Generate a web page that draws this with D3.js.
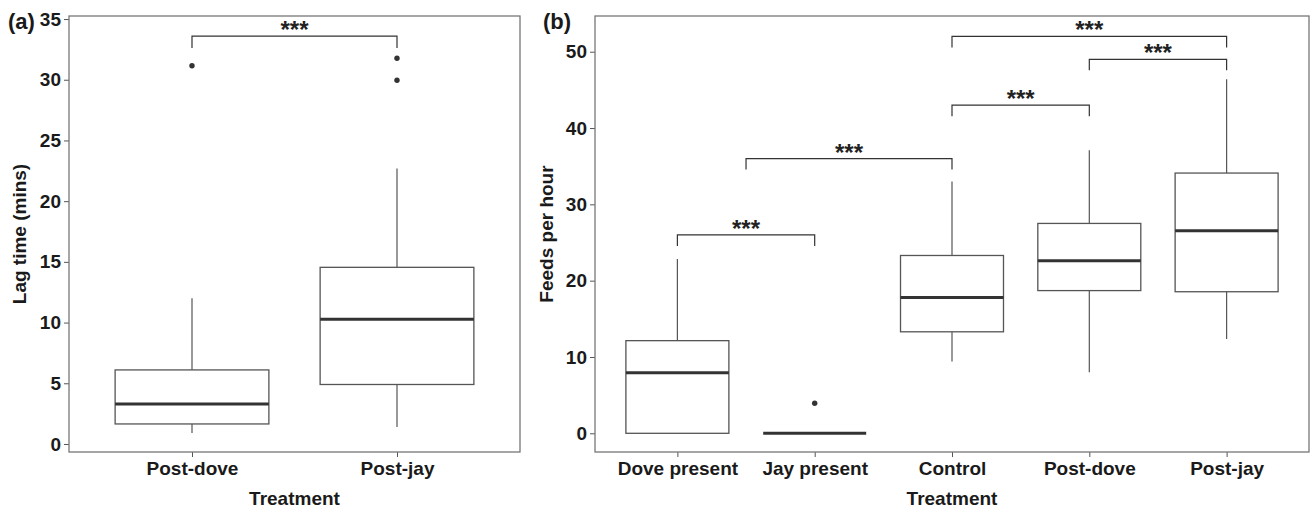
<!DOCTYPE html>
<html>
<head>
<meta charset="utf-8">
<script src="https://cdn.jsdelivr.net/npm/d3@7"></script>
<style>
  body { margin: 0; background: #fff; }
  text { font-family: "Liberation Sans", Arial, sans-serif; }
</style>
</head>
<body>
<svg id="chart" width="1311" height="509"></svg>
<script>
// Panel (a) data: lag time (mins)
const lagCategories = ["Post-dove", "Post-jay"];
const lagWhiskerLow = [0.9, 1.4];
const lagQ1 = [1.65, 4.9];
const lagMedian = [3.3, 10.27];
const lagQ3 = [6.1, 14.55];
const lagWhiskerHigh = [12.0, 22.7];
const lagOutliers = [[31.15], [31.77, 29.96]];
const lagTicks = [0, 5, 10, 15, 20, 25, 30, 35];
// from/to: a category, or a list of categories (bracket end sits at their midpoint)
const lagBrackets = [
    { from: ["Post-dove"], to: ["Post-jay"], y: 33.6, label: "***" }
];

// Panel (b) data: feeds per hour
const feedCategories = ["Dove present", "Jay present", "Control", "Post-dove", "Post-jay"];
const feedWhiskerLow = [0, 0, 9.4, 8.0, 12.36];
const feedQ1 = [0, 0, 13.3, 18.7, 18.55];
const feedMedian = [7.95, 0, 17.8, 22.6, 26.55];
const feedQ3 = [12.14, 0, 23.3, 27.5, 34.1];
const feedWhiskerHigh = [22.85, 0, 33.0, 37.1, 46.4];
const feedOutliers = [[], [3.93], [], [], []];
const feedTicks = [0, 10, 20, 30, 40, 50];
const feedBrackets = [
    { from: ["Dove present"], to: ["Jay present"], y: 26.0, label: "***" },
    { from: ["Dove present", "Jay present"], to: ["Control"], y: 36.0, label: "***" },
    { from: ["Control"], to: ["Post-dove"], y: 43.0, label: "***" },
    { from: ["Post-dove"], to: ["Post-jay"], y: 49.0, label: "***" },
    { from: ["Control"], to: ["Post-jay"], y: 52.0, label: "***" }
];

const svg = d3.select("#chart");

function drawPanel(opt) {
    const x = d3.scalePoint()
        .domain(opt.categories)
        .range([opt.left, opt.right])
        .padding(0.6);
    const y = d3.scaleLinear()
        .domain(opt.yDomain)
        .range([opt.bottom, opt.top]);
    const boxW = x.step() * 0.75;

    const g = svg.append("g");

    const rows = opt.categories.map((c, i) => ({
        cat: c, lo: opt.low[i], q1: opt.q1[i], med: opt.median[i],
        q3: opt.q3[i], hi: opt.high[i], out: opt.outliers[i]
    }));

    // whiskers
    g.selectAll(".whisk-hi").data(rows).enter().append("line")
        .attr("x1", d => x(d.cat)).attr("x2", d => x(d.cat))
        .attr("y1", d => y(d.q3)).attr("y2", d => y(d.hi))
        .attr("stroke", "#555").attr("stroke-width", 1.2);
    g.selectAll(".whisk-lo").data(rows).enter().append("line")
        .attr("x1", d => x(d.cat)).attr("x2", d => x(d.cat))
        .attr("y1", d => y(d.q1)).attr("y2", d => y(d.lo))
        .attr("stroke", "#555").attr("stroke-width", 1.2);

    // boxes
    g.selectAll(".box").data(rows).enter().append("rect")
        .attr("x", d => x(d.cat) - boxW / 2)
        .attr("width", boxW)
        .attr("y", d => y(d.q3))
        .attr("height", d => y(d.q1) - y(d.q3))
        .attr("fill", "#fff")
        .attr("stroke", "#555").attr("stroke-width", 1.3);

    // medians
    g.selectAll(".median").data(rows).enter().append("line")
        .attr("x1", d => x(d.cat) - boxW / 2).attr("x2", d => x(d.cat) + boxW / 2)
        .attr("y1", d => y(d.med)).attr("y2", d => y(d.med))
        .attr("stroke", "#333").attr("stroke-width", 3);

    // outliers
    rows.forEach(d => {
        g.selectAll(null).data(d.out).enter().append("circle")
            .attr("cx", x(d.cat)).attr("cy", v => y(v))
            .attr("r", 2.7).attr("fill", "#333");
    });

    // significance brackets
    const mid = cats => d3.mean(cats, c => x(c));
    opt.brackets.forEach(b => {
        const x1 = mid(b.from), x2 = mid(b.to), yy = y(b.y);
        g.append("path")
            .attr("d", `M${x1},${yy + opt.tip}V${yy}H${x2}V${yy + opt.tip}`)
            .attr("fill", "none").attr("stroke", "#333").attr("stroke-width", 1.2);
        g.append("text")
            .attr("x", (x1 + x2) / 2).attr("y", yy + 2)
            .attr("text-anchor", "middle")
            .style("font-size", "24px").style("font-weight", "bold")
            .attr("fill", "#222")
            .text(b.label);
    });

    // Y axis
    const yAxis = g.append("g")
        .attr("transform", `translate(${opt.left},0)`)
        .call(d3.axisLeft(y).tickValues(opt.ticks).tickSize(5).tickPadding(3));
    yAxis.select(".domain").remove();
    yAxis.selectAll("line").attr("stroke", "#555");
    yAxis.selectAll("text")
        .style("font-size", "19px").style("font-weight", "bold")
        .attr("fill", "#1a1a1a");

    // X axis
    const xAxis = g.append("g")
        .attr("transform", `translate(0,${opt.bottom})`)
        .call(d3.axisBottom(x).tickSize(5).tickPadding(5));
    xAxis.select(".domain").remove();
    xAxis.selectAll("line").attr("stroke", "#555");
    xAxis.selectAll("text")
        .style("font-size", "19px").style("font-weight", "bold")
        .attr("fill", "#1a1a1a");

    // panel border
    g.append("rect")
        .attr("x", opt.left).attr("y", opt.top)
        .attr("width", opt.right - opt.left).attr("height", opt.bottom - opt.top)
        .attr("fill", "none").attr("stroke", "#777").attr("stroke-width", 1.3);

    // axis titles
    g.append("text")
        .attr("x", (opt.left + opt.right) / 2).attr("y", 505)
        .attr("text-anchor", "middle")
        .style("font-size", "19px").style("font-weight", "bold")
        .attr("fill", "#1a1a1a")
        .text("Treatment");
    g.append("text")
        .attr("transform", `translate(${opt.yTitleX},${(opt.top + opt.bottom) / 2}) rotate(-90)`)
        .attr("text-anchor", "middle")
        .style("font-size", "19px").style("font-weight", "bold")
        .attr("fill", "#1a1a1a")
        .text(opt.yTitle);

    // panel tag
    g.append("text")
        .attr("x", opt.tagX).attr("y", 29)
        .style("font-size", "22px").style("font-weight", "bold")
        .attr("fill", "#1a1a1a")
        .text(opt.tag);
}

drawPanel({
    categories: lagCategories,
    low: lagWhiskerLow, q1: lagQ1, median: lagMedian, q3: lagQ3, high: lagWhiskerHigh,
    outliers: lagOutliers, ticks: lagTicks, brackets: lagBrackets,
    yDomain: [-0.66, 35.25],
    left: 69, right: 520, top: 16, bottom: 452,
    tip: 12, yTitle: "Lag time (mins)", yTitleX: 26, tag: "(a)", tagX: 8
});

drawPanel({
    categories: feedCategories,
    low: feedWhiskerLow, q1: feedQ1, median: feedMedian, q3: feedQ3, high: feedWhiskerHigh,
    outliers: feedOutliers, ticks: feedTicks, brackets: feedBrackets,
    yDomain: [-2.45, 54.68],
    left: 595, right: 1309, top: 16, bottom: 452,
    tip: 11, yTitle: "Feeds per hour", yTitleX: 553, tag: "(b)", tagX: 543
});
</script>
</body>
</html>
